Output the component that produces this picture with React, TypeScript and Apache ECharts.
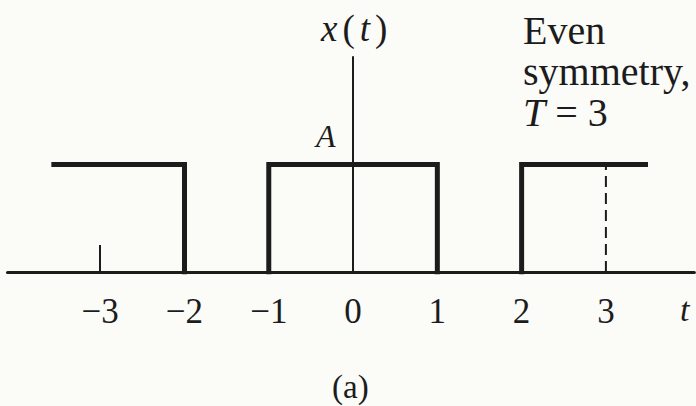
import React, { useEffect, useRef } from "react";
import * as echarts from "echarts";

// Periodic rectangular pulse train x(t), amplitude A, period T = 3
const amplitude = 1;
const leftPulse: [number, number][] = [[-3.55, 1], [-2, 1], [-2, 0]];
const centrePulse: [number, number][] = [[-1, 0], [-1, 1], [1, 1], [1, 0]];
const rightPulse: [number, number][] = [[2, 0], [2, 1], [3.47, 1]];
const periodMarker: [number, number][] = [[3, 0], [3, 1]];
const tickLabels = [-3, -2, -1, 0, 1, 2, 3];
const tickMarks = [-3];

const INK = "#1c1c1c";
const SERIF = "'Liberation Serif', 'DejaVu Serif', serif";

export default function App() {
  const ref = useRef<HTMLDivElement>(null);

  useEffect(() => {
    if (!ref.current) return;
    const chart = echarts.init(ref.current, undefined, { renderer: "svg" });

    const pulseSeries = (data: [number, number][]) => ({
      type: "line",
      data: data.map(([t, v]) => [t, v * amplitude]),
      symbol: "none",
      silent: true,
      z: 5,
      lineStyle: { color: INK, width: 5, cap: "square", join: "miter" },
    });

    chart.setOption({
      animation: false,
      backgroundColor: "#fbfbf8",
      grid: { left: 7.5, right: 1.6, top: 57, bottom: 134, containLabel: false },
      xAxis: {
        type: "value",
        min: -4.1,
        max: 4.05,
        splitLine: { show: false },
        axisLine: { show: true, lineStyle: { color: INK, width: 3 } },
        axisTick: {
          show: true,
          customValues: tickMarks,
          inside: true,
          length: 27,
          lineStyle: { color: INK, width: 2 },
        },
        axisLabel: {
          customValues: tickLabels,
          margin: 22,
          color: INK,
          fontSize: 35,
          fontFamily: SERIF,
          formatter: (v: number) => (v < 0 ? "\u2212" + Math.abs(v) : String(v)),
        },
      },
      yAxis: {
        type: "value",
        min: 0,
        max: 2,
        splitLine: { show: false },
        axisLine: { show: true, onZero: true, lineStyle: { color: INK, width: 2 } },
        axisTick: { show: false },
        axisLabel: { show: false },
      },
      series: [
        pulseSeries(leftPulse),
        pulseSeries(centrePulse),
        pulseSeries(rightPulse),
        {
          type: "line",
          data: periodMarker.map(([t, v]) => [t, v * amplitude]),
          symbol: "none",
          silent: true,
          z: 4,
          lineStyle: { color: INK, width: 2, type: [11, 6] },
        },
      ],
      graphic: [
        {
          type: "text",
          left: 321,
          top: 10,
          style: {
            text: "{i|x}{n|(}{i|t}{n|)}",
            rich: {
              i: { fontFamily: SERIF, fontStyle: "italic", fontSize: 37, fill: INK },
              n: { fontFamily: SERIF, fontSize: 37, fill: INK, padding: [0, 5, 0, 5] },
            },
          },
        },
        {
          type: "text",
          left: 316,
          top: 120,
          style: { text: "A", font: `italic 32px ${SERIF}`, fill: INK },
        },
        {
          type: "text",
          left: 523,
          top: 10,
          style: {
            text: "{n|Even}\n{n|symmetry,}\n{i|T}{n| = 3}",
            rich: {
              n: { fontFamily: SERIF, fontSize: 40, lineHeight: 41, fill: INK },
              i: { fontFamily: SERIF, fontStyle: "italic", fontSize: 40, lineHeight: 41, fill: INK },
            },
          },
        },
        {
          type: "text",
          left: 680,
          top: 292,
          style: { text: "t", font: `italic 34px ${SERIF}`, fill: INK },
        },
        {
          type: "text",
          left: 332,
          top: 370,
          style: { text: "(a)", font: `33px ${SERIF}`, fill: INK },
        },
      ],
    });

    return () => chart.dispose();
  }, []);

  return (
    <div
      ref={ref}
      style={{ position: "absolute", left: 0, top: 0, width: 696, height: 406 }}
    />
  );
}
